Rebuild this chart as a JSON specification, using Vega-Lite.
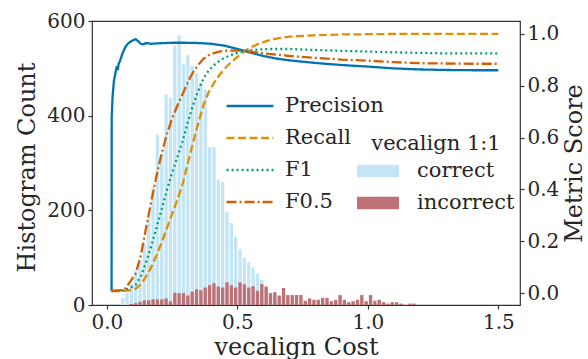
{
  "$schema": "https://vega.github.io/schema/vega-lite/v6.json",
  "width": 428,
  "height": 284,
  "autosize": {"type": "none"},
  "padding": {"left": 92, "top": 21, "right": 68, "bottom": 54},
  "background": "white",
  "config": {
    "font": "DejaVu Serif, serif",
    "style": {"guide-label": {"font": "DejaVu Serif, serif"}, "guide-title": {"font": "DejaVu Serif, serif"}},
    "view": {"stroke": "#333333", "strokeWidth": 1.2},
    "axis": {"grid": false, "domain": false, "tickColor": "#333333", "tickWidth": 1.2, "tickSize": 4, "labelPadding": 3, "labelFont": "DejaVu Serif, serif", "titleFont": "DejaVu Serif, serif", "labelFontSize": 20, "labelColor": "#262626", "titleFontSize": 24, "titleFontWeight": "normal", "titleColor": "#262626"},
    "bar": {"binSpacing": 1},
    "legend": {"labelFont": "DejaVu Serif, serif", "labelFontSize": 21, "labelColor": "#262626", "titleFont": "DejaVu Serif, serif", "titleFontSize": 21, "titleFontWeight": "normal", "titleColor": "#262626", "padding": 0}
  },
  "datasets": {
    "hist": [
      {"lo":0.0500,"hi":0.0667,"correct":15,"incorrect":0},
      {"lo":0.0667,"hi":0.0833,"correct":25,"incorrect":0},
      {"lo":0.0833,"hi":0.1000,"correct":45,"incorrect":2},
      {"lo":0.1000,"hi":0.1167,"correct":72,"incorrect":4},
      {"lo":0.1167,"hi":0.1333,"correct":95,"incorrect":7},
      {"lo":0.1333,"hi":0.1500,"correct":130,"incorrect":10},
      {"lo":0.1500,"hi":0.1667,"correct":185,"incorrect":10},
      {"lo":0.1667,"hi":0.1833,"correct":250,"incorrect":12},
      {"lo":0.1833,"hi":0.2000,"correct":360,"incorrect":12},
      {"lo":0.2000,"hi":0.2167,"correct":320,"incorrect":12},
      {"lo":0.2167,"hi":0.2333,"correct":445,"incorrect":14},
      {"lo":0.2333,"hi":0.2500,"correct":438,"incorrect":8},
      {"lo":0.2500,"hi":0.2667,"correct":548,"incorrect":26},
      {"lo":0.2667,"hi":0.2833,"correct":570,"incorrect":25},
      {"lo":0.2833,"hi":0.3000,"correct":510,"incorrect":25},
      {"lo":0.3000,"hi":0.3167,"correct":528,"incorrect":20},
      {"lo":0.3167,"hi":0.3333,"correct":505,"incorrect":28},
      {"lo":0.3333,"hi":0.3500,"correct":490,"incorrect":33},
      {"lo":0.3500,"hi":0.3667,"correct":470,"incorrect":31},
      {"lo":0.3667,"hi":0.3833,"correct":455,"incorrect":37},
      {"lo":0.3833,"hi":0.4000,"correct":334,"incorrect":42},
      {"lo":0.4000,"hi":0.4167,"correct":334,"incorrect":46},
      {"lo":0.4167,"hi":0.4333,"correct":264,"incorrect":39},
      {"lo":0.4333,"hi":0.4500,"correct":260,"incorrect":37},
      {"lo":0.4500,"hi":0.4667,"correct":196,"incorrect":48},
      {"lo":0.4667,"hi":0.4833,"correct":173,"incorrect":42},
      {"lo":0.4833,"hi":0.5000,"correct":144,"incorrect":37},
      {"lo":0.5000,"hi":0.5167,"correct":118,"incorrect":48},
      {"lo":0.5167,"hi":0.5333,"correct":100,"incorrect":44},
      {"lo":0.5333,"hi":0.5500,"correct":91,"incorrect":37},
      {"lo":0.5500,"hi":0.5667,"correct":80,"incorrect":40},
      {"lo":0.5667,"hi":0.5833,"correct":66,"incorrect":30},
      {"lo":0.5833,"hi":0.6000,"correct":53,"incorrect":44},
      {"lo":0.6000,"hi":0.6167,"correct":36,"incorrect":39},
      {"lo":0.6167,"hi":0.6333,"correct":20,"incorrect":25},
      {"lo":0.6333,"hi":0.6500,"correct":10,"incorrect":27},
      {"lo":0.6500,"hi":0.6667,"correct":5,"incorrect":20},
      {"lo":0.6667,"hi":0.6833,"correct":3,"incorrect":36},
      {"lo":0.6833,"hi":0.7000,"correct":0,"incorrect":21},
      {"lo":0.7000,"hi":0.7167,"correct":0,"incorrect":21},
      {"lo":0.7167,"hi":0.7333,"correct":0,"incorrect":21},
      {"lo":0.7333,"hi":0.7500,"correct":0,"incorrect":21},
      {"lo":0.7500,"hi":0.7667,"correct":0,"incorrect":9},
      {"lo":0.7667,"hi":0.7833,"correct":0,"incorrect":14},
      {"lo":0.7833,"hi":0.8000,"correct":0,"incorrect":11},
      {"lo":0.8000,"hi":0.8167,"correct":0,"incorrect":11},
      {"lo":0.8167,"hi":0.8333,"correct":0,"incorrect":15},
      {"lo":0.8333,"hi":0.8500,"correct":0,"incorrect":15},
      {"lo":0.8500,"hi":0.8667,"correct":0,"incorrect":8},
      {"lo":0.8667,"hi":0.8833,"correct":0,"incorrect":11},
      {"lo":0.8833,"hi":0.9000,"correct":0,"incorrect":21},
      {"lo":0.9000,"hi":0.9167,"correct":0,"incorrect":11},
      {"lo":0.9167,"hi":0.9333,"correct":0,"incorrect":6},
      {"lo":0.9333,"hi":0.9500,"correct":0,"incorrect":8},
      {"lo":0.9500,"hi":0.9667,"correct":0,"incorrect":11},
      {"lo":0.9667,"hi":0.9833,"correct":0,"incorrect":21},
      {"lo":0.9833,"hi":1.0000,"correct":0,"incorrect":8},
      {"lo":1.0000,"hi":1.0167,"correct":0,"incorrect":21},
      {"lo":1.0167,"hi":1.0333,"correct":0,"incorrect":9},
      {"lo":1.0333,"hi":1.0500,"correct":0,"incorrect":11},
      {"lo":1.0500,"hi":1.0667,"correct":0,"incorrect":6},
      {"lo":1.0667,"hi":1.0833,"correct":0,"incorrect":3},
      {"lo":1.0833,"hi":1.1000,"correct":0,"incorrect":6},
      {"lo":1.1000,"hi":1.1167,"correct":0,"incorrect":6},
      {"lo":1.1167,"hi":1.1333,"correct":0,"incorrect":3},
      {"lo":1.1333,"hi":1.1500,"correct":0,"incorrect":0},
      {"lo":1.1500,"hi":1.1667,"correct":0,"incorrect":3},
      {"lo":1.1667,"hi":1.1833,"correct":0,"incorrect":3}
    ],
    "metrics": [
      {"cost":0.018,"metric":"Precision","score":0.008},{"cost":0.0185,"metric":"Precision","score":0.68},{"cost":0.022,"metric":"Precision","score":0.76},{"cost":0.027,"metric":"Precision","score":0.82},{"cost":0.033,"metric":"Precision","score":0.85},{"cost":0.038,"metric":"Precision","score":0.875},{"cost":0.042,"metric":"Precision","score":0.86},{"cost":0.045,"metric":"Precision","score":0.885},{"cost":0.05,"metric":"Precision","score":0.895},{"cost":0.055,"metric":"Precision","score":0.91},{"cost":0.06,"metric":"Precision","score":0.925},{"cost":0.07,"metric":"Precision","score":0.948},{"cost":0.08,"metric":"Precision","score":0.962},{"cost":0.09,"metric":"Precision","score":0.97},{"cost":0.1,"metric":"Precision","score":0.976},{"cost":0.11,"metric":"Precision","score":0.98},{"cost":0.12,"metric":"Precision","score":0.972},{"cost":0.13,"metric":"Precision","score":0.962},{"cost":0.14,"metric":"Precision","score":0.96},{"cost":0.15,"metric":"Precision","score":0.965},{"cost":0.17,"metric":"Precision","score":0.962},{"cost":0.2,"metric":"Precision","score":0.964},{"cost":0.25,"metric":"Precision","score":0.966},{"cost":0.3,"metric":"Precision","score":0.966},{"cost":0.35,"metric":"Precision","score":0.965},{"cost":0.4,"metric":"Precision","score":0.962},{"cost":0.45,"metric":"Precision","score":0.955},{"cost":0.5,"metric":"Precision","score":0.942},{"cost":0.55,"metric":"Precision","score":0.928},{"cost":0.6,"metric":"Precision","score":0.915},{"cost":0.65,"metric":"Precision","score":0.905},{"cost":0.7,"metric":"Precision","score":0.898},{"cost":0.8,"metric":"Precision","score":0.888},{"cost":0.9,"metric":"Precision","score":0.88},{"cost":1.0,"metric":"Precision","score":0.874},{"cost":1.1,"metric":"Precision","score":0.867},{"cost":1.2,"metric":"Precision","score":0.863},{"cost":1.3,"metric":"Precision","score":0.861},{"cost":1.4,"metric":"Precision","score":0.86},{"cost":1.5,"metric":"Precision","score":0.86},
      {"cost":0.018,"metric":"Recall","score":0.008},{"cost":0.05,"metric":"Recall","score":0.008},{"cost":0.07,"metric":"Recall","score":0.009},{"cost":0.09,"metric":"Recall","score":0.011},{"cost":0.11,"metric":"Recall","score":0.016},{"cost":0.13,"metric":"Recall","score":0.033},{"cost":0.15,"metric":"Recall","score":0.063},{"cost":0.17,"metric":"Recall","score":0.1},{"cost":0.19,"metric":"Recall","score":0.145},{"cost":0.21,"metric":"Recall","score":0.195},{"cost":0.23,"metric":"Recall","score":0.25},{"cost":0.25,"metric":"Recall","score":0.305},{"cost":0.27,"metric":"Recall","score":0.36},{"cost":0.29,"metric":"Recall","score":0.42},{"cost":0.31,"metric":"Recall","score":0.5},{"cost":0.33,"metric":"Recall","score":0.58},{"cost":0.35,"metric":"Recall","score":0.655},{"cost":0.37,"metric":"Recall","score":0.725},{"cost":0.39,"metric":"Recall","score":0.775},{"cost":0.41,"metric":"Recall","score":0.81},{"cost":0.43,"metric":"Recall","score":0.84},{"cost":0.45,"metric":"Recall","score":0.865},{"cost":0.47,"metric":"Recall","score":0.885},{"cost":0.49,"metric":"Recall","score":0.903},{"cost":0.51,"metric":"Recall","score":0.92},{"cost":0.53,"metric":"Recall","score":0.935},{"cost":0.55,"metric":"Recall","score":0.947},{"cost":0.58,"metric":"Recall","score":0.962},{"cost":0.62,"metric":"Recall","score":0.975},{"cost":0.66,"metric":"Recall","score":0.984},{"cost":0.7,"metric":"Recall","score":0.99},{"cost":0.8,"metric":"Recall","score":0.995},{"cost":0.9,"metric":"Recall","score":0.998},{"cost":1.0,"metric":"Recall","score":0.999},{"cost":1.1,"metric":"Recall","score":1.0},{"cost":1.2,"metric":"Recall","score":1.0},{"cost":1.3,"metric":"Recall","score":1.0},{"cost":1.4,"metric":"Recall","score":1.0},{"cost":1.5,"metric":"Recall","score":1.0},
      {"cost":0.018,"metric":"F1","score":0.008},{"cost":0.05,"metric":"F1","score":0.009},{"cost":0.07,"metric":"F1","score":0.012},{"cost":0.09,"metric":"F1","score":0.021},{"cost":0.11,"metric":"F1","score":0.031},{"cost":0.13,"metric":"F1","score":0.064},{"cost":0.15,"metric":"F1","score":0.118},{"cost":0.17,"metric":"F1","score":0.181},{"cost":0.19,"metric":"F1","score":0.252},{"cost":0.21,"metric":"F1","score":0.324},{"cost":0.23,"metric":"F1","score":0.397},{"cost":0.25,"metric":"F1","score":0.464},{"cost":0.27,"metric":"F1","score":0.525},{"cost":0.29,"metric":"F1","score":0.585},{"cost":0.31,"metric":"F1","score":0.659},{"cost":0.33,"metric":"F1","score":0.725},{"cost":0.35,"metric":"F1","score":0.78},{"cost":0.37,"metric":"F1","score":0.828},{"cost":0.39,"metric":"F1","score":0.859},{"cost":0.41,"metric":"F1","score":0.879},{"cost":0.43,"metric":"F1","score":0.895},{"cost":0.45,"metric":"F1","score":0.908},{"cost":0.47,"metric":"F1","score":0.916},{"cost":0.49,"metric":"F1","score":0.924},{"cost":0.51,"metric":"F1","score":0.93},{"cost":0.53,"metric":"F1","score":0.935},{"cost":0.55,"metric":"F1","score":0.937},{"cost":0.58,"metric":"F1","score":0.94},{"cost":0.62,"metric":"F1","score":0.942},{"cost":0.66,"metric":"F1","score":0.942},{"cost":0.7,"metric":"F1","score":0.942},{"cost":0.8,"metric":"F1","score":0.938},{"cost":0.9,"metric":"F1","score":0.935},{"cost":1.0,"metric":"F1","score":0.932},{"cost":1.1,"metric":"F1","score":0.929},{"cost":1.2,"metric":"F1","score":0.927},{"cost":1.3,"metric":"F1","score":0.925},{"cost":1.4,"metric":"F1","score":0.925},{"cost":1.5,"metric":"F1","score":0.925},
      {"cost":0.018,"metric":"F0.5","score":0.008},{"cost":0.05,"metric":"F0.5","score":0.01},{"cost":0.07,"metric":"F0.5","score":0.018},{"cost":0.09,"metric":"F0.5","score":0.045},{"cost":0.11,"metric":"F0.5","score":0.075},{"cost":0.13,"metric":"F0.5","score":0.145},{"cost":0.15,"metric":"F0.5","score":0.25},{"cost":0.17,"metric":"F0.5","score":0.353},{"cost":0.19,"metric":"F0.5","score":0.452},{"cost":0.21,"metric":"F0.5","score":0.539},{"cost":0.23,"metric":"F0.5","score":0.614},{"cost":0.25,"metric":"F0.5","score":0.674},{"cost":0.27,"metric":"F0.5","score":0.723},{"cost":0.29,"metric":"F0.5","score":0.767},{"cost":0.31,"metric":"F0.5","score":0.814},{"cost":0.33,"metric":"F0.5","score":0.852},{"cost":0.35,"metric":"F0.5","score":0.881},{"cost":0.37,"metric":"F0.5","score":0.904},{"cost":0.39,"metric":"F0.5","score":0.918},{"cost":0.41,"metric":"F0.5","score":0.926},{"cost":0.43,"metric":"F0.5","score":0.932},{"cost":0.45,"metric":"F0.5","score":0.935},{"cost":0.47,"metric":"F0.5","score":0.936},{"cost":0.49,"metric":"F0.5","score":0.936},{"cost":0.51,"metric":"F0.5","score":0.936},{"cost":0.53,"metric":"F0.5","score":0.935},{"cost":0.55,"metric":"F0.5","score":0.932},{"cost":0.58,"metric":"F0.5","score":0.928},{"cost":0.62,"metric":"F0.5","score":0.923},{"cost":0.66,"metric":"F0.5","score":0.919},{"cost":0.7,"metric":"F0.5","score":0.915},{"cost":0.8,"metric":"F0.5","score":0.908},{"cost":0.9,"metric":"F0.5","score":0.901},{"cost":1.0,"metric":"F0.5","score":0.897},{"cost":1.1,"metric":"F0.5","score":0.891},{"cost":1.2,"metric":"F0.5","score":0.887},{"cost":1.3,"metric":"F0.5","score":0.886},{"cost":1.4,"metric":"F0.5","score":0.885},{"cost":1.5,"metric":"F0.5","score":0.885}
    ]
  },
  "layer": [
    {
      "data": {"name": "hist"},
      "layer": [
        {
          "mark": {"type": "bar"},
          "encoding": {
            "x": {"field": "lo", "type": "quantitative", "bin": {"binned": true}, "scale": {"domain": [-0.057, 1.583], "nice": false, "zero": false}, "title": "vecalign Cost", "axis": {"values": [0, 0.5, 1.0, 1.5], "format": ".1f", "labelFont": "DejaVu Serif, serif", "titleFont": "DejaVu Serif, serif", "titleX": 204, "titleAlign": "center", "titleY": 49, "titleBaseline": "alphabetic"}},
            "x2": {"field": "hi"},
            "y": {"field": "correct", "type": "quantitative", "stack": null, "scale": {"domain": [0, 600], "nice": false}, "title": "Histogram Count", "axis": {"orient": "left", "values": [0, 200, 400, 600], "labelFont": "DejaVu Serif, serif", "titleFont": "DejaVu Serif, serif", "titleAngle": 270, "titleX": -65, "titleY": 146, "titleAlign": "center", "titleBaseline": "middle"}},
            "fill": {"datum": "correct", "type": "nominal", "scale": {"domain": ["correct", "incorrect"], "range": ["#c3e5f5", "#bf7276"]}, "legend": {"orient": "none", "legendX": 265, "legendY": 112, "title": "vecalign 1:1", "titleAnchor": "middle", "titlePadding": 6, "symbolType": "M-1,-0.3H1V0.3H-1Z", "symbolSize": 1764, "symbolStrokeWidth": 0, "labelOffset": 18, "clipHeight": 22, "rowPadding": 10}}
          }
        },
        {
          "mark": {"type": "bar"},
          "encoding": {
            "x": {"field": "lo", "type": "quantitative", "bin": {"binned": true}, "title": "vecalign Cost"},
            "x2": {"field": "hi"},
            "y": {"field": "incorrect", "type": "quantitative", "stack": null, "title": "Histogram Count"},
            "fill": {"datum": "incorrect", "type": "nominal"}
          }
        }
      ]
    },
    {
      "data": {"name": "metrics"},
      "mark": {"type": "line", "strokeWidth": 2.3, "strokeCap": "butt"},
      "encoding": {
        "x": {"field": "cost", "type": "quantitative", "title": "vecalign Cost", "axis": {"values": [0, 0.5, 1.0, 1.5], "format": ".1f", "labelFont": "DejaVu Serif, serif", "titleFont": "DejaVu Serif, serif", "titleX": 204, "titleAlign": "center", "titleY": 49, "titleBaseline": "alphabetic"}},
        "y": {"field": "score", "type": "quantitative", "scale": {"domain": [-0.046, 1.05], "nice": false, "zero": false}, "title": "Metric Score", "axis": {"orient": "right", "values": [0, 0.2, 0.4, 0.6, 0.8, 1.0], "format": ".1f", "labelFont": "DejaVu Serif, serif", "titleFont": "DejaVu Serif, serif", "titleAngle": 270, "titleX": 54, "titleY": 142, "titleAlign": "center", "titleBaseline": "middle"}},
        "stroke": {"field": "metric", "type": "nominal", "scale": {"domain": ["Precision", "Recall", "F1", "F0.5"], "range": ["#0173b2", "#de8f05", "#029e73", "#d55e00"]}, "legend": {"orient": "none", "legendX": 133, "legendY": 74, "title": null, "symbolType": "stroke", "symbolSize": 2200, "symbolStrokeWidth": 2.5, "labelOffset": 10, "clipHeight": 22, "rowPadding": 10}},
        "strokeDash": {"field": "metric", "type": "nominal", "scale": {"domain": ["Precision", "Recall", "F1", "F0.5"], "range": [[1, 0], [8, 3.5], [2, 3], [10, 3, 2, 3]]}, "legend": {"orient": "none", "legendX": 133, "legendY": 74, "title": null, "symbolType": "stroke", "symbolSize": 2200, "symbolStrokeWidth": 2.5, "labelOffset": 10, "clipHeight": 22, "rowPadding": 10}}
      }
    }
  ],
  "resolve": {"scale": {"y": "independent"}}
}
